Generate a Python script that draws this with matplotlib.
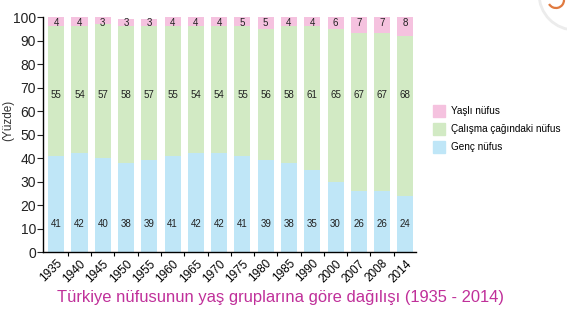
import matplotlib
matplotlib.use("Agg")
import matplotlib.pyplot as plt
import numpy as np
from matplotlib.patches import Patch, Circle, Arc

plt.rcParams['font.family'] = ['Liberation Sans', 'DejaVu Sans']

# veriler
yillar = ['1935', '1940', '1945', '1950', '1955', '1960', '1965', '1970',
          '1975', '1980', '1985', '1990', '2000', '2007', '2008', '2014']
genc = [41, 42, 40, 38, 39, 41, 42, 42, 41, 39, 38, 35, 30, 26, 26, 24]
calisma = [55, 54, 57, 58, 57, 55, 54, 54, 55, 56, 58, 61, 65, 67, 67, 68]
yasli = [4, 4, 3, 3, 3, 4, 4, 4, 5, 5, 4, 4, 6, 7, 7, 8]

renk_genc = '#bfe6f7'
renk_calisma = '#d2eac4'
renk_yasli = '#f5c2df'

fig = plt.figure(figsize=(5.67, 3.19), dpi=100)
ax = fig.add_axes([0.0758, 0.21, 0.658, 0.7367])

x = np.arange(len(yillar))
g = np.array(genc)
c = np.array(calisma)
y = np.array(yasli)
w = 0.69
ax.bar(x, g, width=w, color=renk_genc)
ax.bar(x, c, width=w, bottom=g, color=renk_calisma)
ax.bar(x, y, width=w, bottom=g + c, color=renk_yasli)

# sutun icindeki sayilar
for i in range(len(x)):
    ax.text(x[i], 12, str(genc[i]), ha='center', va='center', fontsize=7, color='#222222')
    ax.text(x[i], 67, str(calisma[i]), ha='center', va='center', fontsize=7, color='#222222')
    ax.text(x[i], 97.5, str(yasli[i]), ha='center', va='center', fontsize=7, color='#222222')

ax.set_xlim(-0.57, len(x) - 0.54)
ax.set_ylim(0, 100)
ax.set_yticks(np.arange(0, 101, 10))
ax.tick_params(axis='y', labelsize=10, length=4, width=0.8, pad=1, colors='#222222')
ax.set_xticks(x)
ax.set_xticklabels(yillar, rotation=45, ha='right', rotation_mode='anchor', fontsize=8.5)
ax.tick_params(axis='x', which='major', length=0, pad=4)
ax.set_xticks(x[:-1] + 0.5, minor=True)
ax.tick_params(axis='x', which='minor', length=3, width=0.8)
for s in ['top', 'right']:
    ax.spines[s].set_visible(False)
for s in ['left', 'bottom']:
    ax.spines[s].set_linewidth(1.0)

fig.text(0.014, 0.622, '(Yüzde)', rotation=90, ha='center', va='center', fontsize=8.5, color='#333333')

handles = [Patch(color=renk_yasli), Patch(color=renk_calisma), Patch(color=renk_genc)]
etiketler = ['Yaşlı nüfus', 'Çalışma çağındaki nüfus', 'Genç nüfus']
fig.legend(handles, etiketler, loc='upper left', bbox_to_anchor=(0.748, 0.7),
           frameon=False, fontsize=7.2, handlelength=1.2, handleheight=1.45,
           labelspacing=0.62, handletextpad=0.55)

fig.text(0.494, 0.066, 'Türkiye nüfusunun yaş gruplarına göre dağılışı (1935 - 2014)',
         ha='center', va='center', fontsize=11.9, color='#c0309a')

# sag ustteki buyutec simgesi
ikon = fig.add_axes([0, 0, 1, 1], zorder=-1)
ikon.set_xlim(0, 567)
ikon.set_ylim(319, 0)
ikon.axis('off')
ikon.add_patch(Circle((575, -6), 36, facecolor='white', edgecolor='#ececec', lw=2))
ikon.add_patch(Arc((556, 0), 16, 16, theta1=0, theta2=150, color='#e07a40', lw=1.6))

fig.savefig('out.png', dpi=100)
